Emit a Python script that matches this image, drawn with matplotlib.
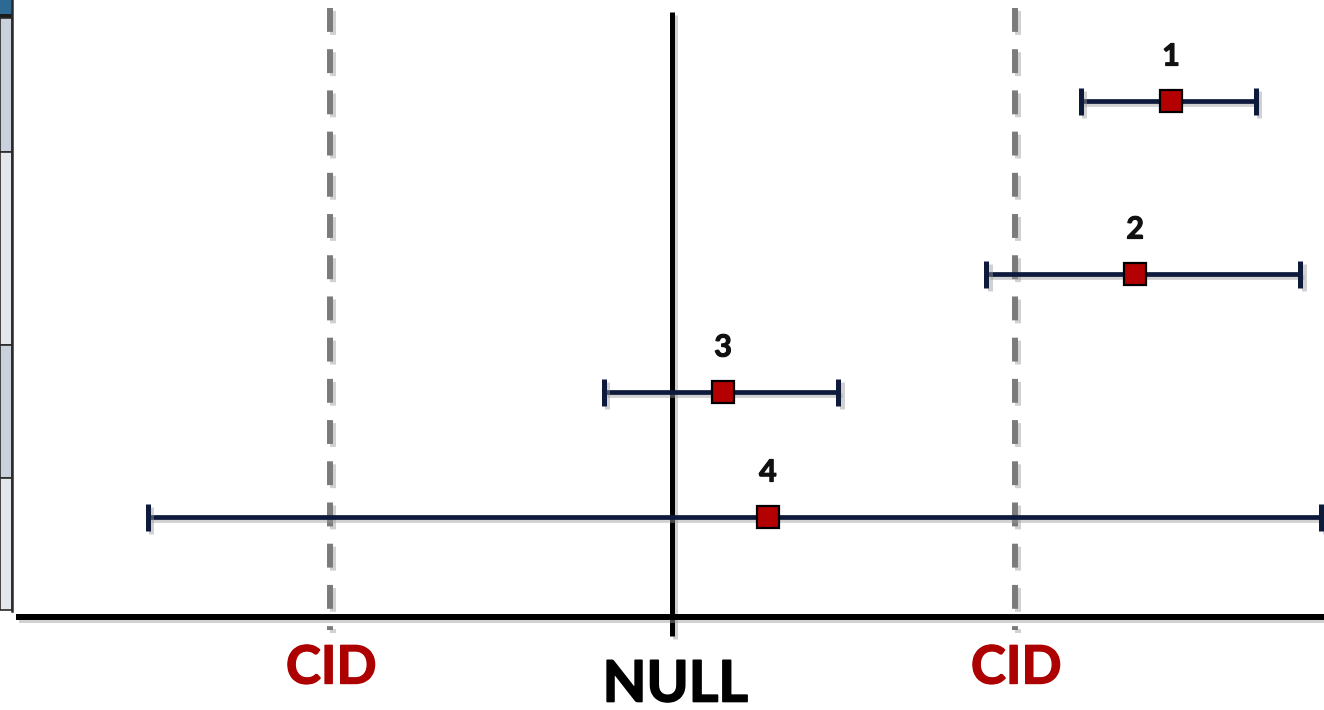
import matplotlib
matplotlib.use("Agg")
import matplotlib.pyplot as plt
import matplotlib.patheffects as pe
from matplotlib.patches import Rectangle

# ---- data ----
labels = ["1", "2", "3", "4"]
estimate = [1.457, 1.352, 0.149, 0.280]
lower = [1.194, 0.917, -0.199, -1.530]
upper = [1.705, 1.834, 0.485, 1.895]
row_y = [101, 274, 392, 517]          # vertical layout (pixels from top)
ref_x = [-1.0, 0.0, 1.0]              # -CID, NULL, +CID
ref_text = ["CID", "NULL", "CID"]

W, H, DPI = 1324, 710, 100
fig = plt.figure(figsize=(W / DPI, H / DPI), dpi=DPI)
fig.patch.set_facecolor("white")

ax = fig.add_axes([0, 0, 1, 1])
ax.set_xlim(-672 / 342.5, (W - 672) / 342.5)
ax.set_ylim(H, 0)
ax.axis("off")

shadow = [pe.SimpleLineShadow(offset=(2.5, -2.5), shadow_color="#9a9a9a", alpha=0.45), pe.Normal()]
txt_fx = [pe.withStroke(linewidth=0.8, foreground="#111111")]
red_fx = [pe.withStroke(linewidth=1.0, foreground="#ad0000")]
blk_fx = [pe.withStroke(linewidth=1.2, foreground="black")]

# dashed CID lines
for xv in (ref_x[0], ref_x[2]):
    ax.plot([xv, xv], [8, 630], color="#7b7b7b", lw=4.3, dashes=(4, 2.9),
            solid_capstyle="butt", dash_capstyle="butt", path_effects=shadow, zorder=2)

# NULL line
ax.plot([ref_x[1], ref_x[1]], [12, 636], color="black", lw=3.6,
        solid_capstyle="butt", path_effects=shadow, zorder=3)

# horizontal axis line
ax.plot([(16 - 672) / 342.5, (W - 672) / 342.5], [617, 617], color="black", lw=4.3,
        solid_capstyle="butt", path_effects=shadow, zorder=3)

# error bars and points
navy = "#0e1a3c"
for lab, e, lo, hi, y in zip(labels, estimate, lower, upper, row_y):
    ax.plot([lo, hi], [y, y], color=navy, lw=3.4, solid_capstyle="butt",
            path_effects=shadow, zorder=4)
    for c in (lo, hi):
        ax.plot([c, c], [y - 13.5, y + 13.5], color=navy, lw=3.6, solid_capstyle="butt",
                path_effects=shadow, zorder=4)
    ax.plot([e], [y], marker="s", ms=15.5, mfc="#b30000", mec="black", mew=1.6,
            linestyle="none", zorder=5)
    ax.annotate(lab, (e, y), xytext=(0, 32), textcoords="offset points",
                ha="center", va="center", fontsize=22, fontweight="bold",
                family="Lato", color="#111111", zorder=6, path_effects=txt_fx)

# reference labels
ax.text(ref_x[0] + 0.005, 668, ref_text[0], ha="center", va="center", fontsize=38,
        fontweight="bold", family="Lato", color="#ad0000", path_effects=red_fx)
ax.text(ref_x[2] + 0.005, 668, ref_text[2], ha="center", va="center", fontsize=38,
        fontweight="bold", family="Lato", color="#ad0000", path_effects=red_fx)
ax.text(ref_x[1] + 0.01, 685, ref_text[1], ha="center", va="center", fontsize=41,
        fontweight="bold", family="Lato", color="black", path_effects=blk_fx)

# partial table at left edge
tax = fig.add_axes([0, 0, 14 / W, 1])
tax.set_xlim(0, 14)
tax.set_ylim(H, 0)
tax.axis("off")
tax.add_patch(Rectangle((0, 0), 12, 14, facecolor="#2c6a93", edgecolor="none"))
tax.add_patch(Rectangle((0, 14), 12, 4, facecolor="#1c1c1c", edgecolor="none"))
bands = [(18, 152, "#c9d1dc"), (152, 345, "#e4e7ec"), (345, 478, "#c9d1dc"), (478, 610, "#e4e7ec")]
for y0, y1, col in bands:
    tax.add_patch(Rectangle((0, y0), 12, y1 - y0, facecolor=col, edgecolor="#2a2a2a", lw=1.2))
tax.plot([12, 12], [0, 611], color="#2a2a2a", lw=1.8)

fig.savefig("out.png", dpi=DPI, facecolor="white")
